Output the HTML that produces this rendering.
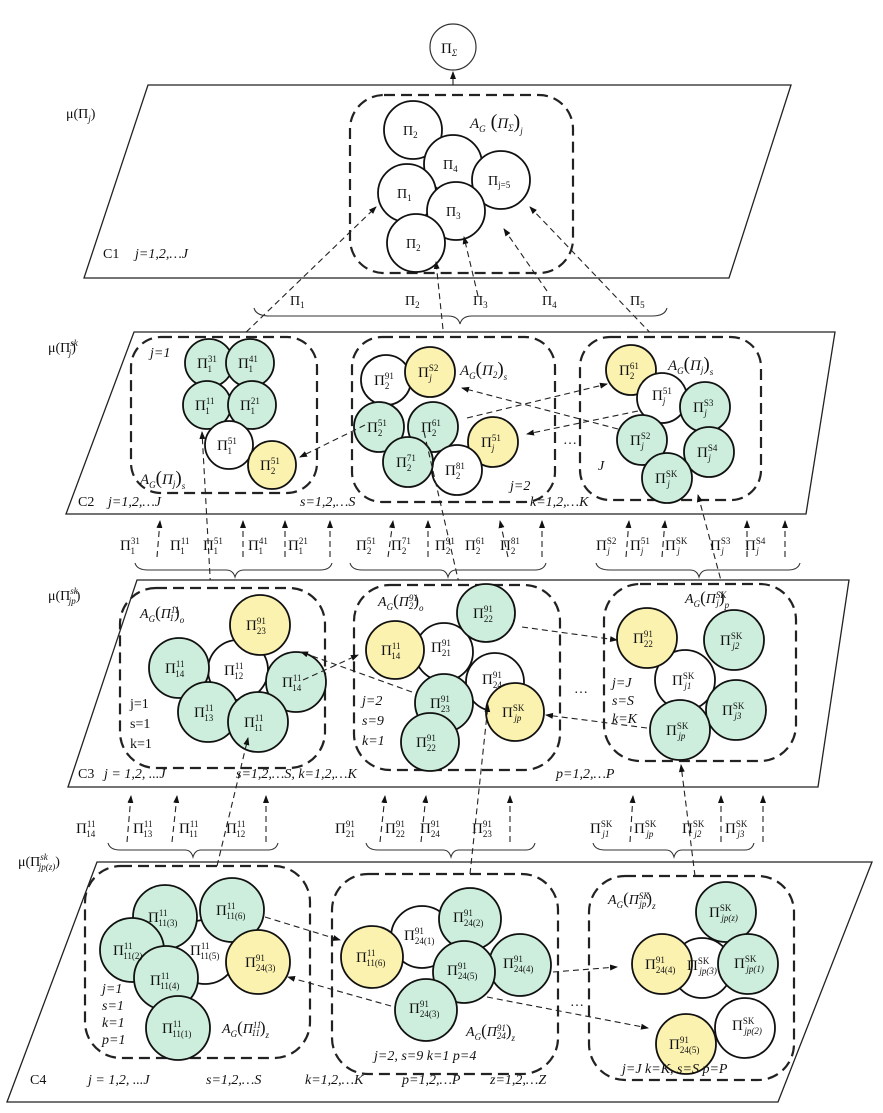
<!DOCTYPE html>
<html><head><meta charset="utf-8">
<style>
html,body{margin:0;padding:0;background:#fff;}
svg{display:block;}
text{font-family:"Liberation Serif",serif;fill:#111;}
.p{font-size:15px;}
.s{font-size:9px;}
.l{font-size:14px;}
.i{font-style:italic;}
.pl{fill:#fff;stroke:#222;stroke-width:1.3;}
.bx{fill:none;stroke:#222;stroke-width:2.2;stroke-dasharray:11 6;}
.g{fill:#cdeedd;stroke:#111;stroke-width:1.8;}
.y{fill:#fbf2b0;stroke:#111;stroke-width:1.8;}
.w{fill:#fff;stroke:#111;stroke-width:1.8;}
.d{fill:none;stroke:#222;stroke-width:1.1;stroke-dasharray:6 4;}
.br{fill:none;stroke:#333;stroke-width:1.1;}
</style></head><body>
<svg width="883" height="1113" viewBox="0 0 883 1113" xmlns="http://www.w3.org/2000/svg">
<defs>
<marker id="a" markerWidth="8" markerHeight="8" refX="7" refY="4" orient="auto" markerUnits="userSpaceOnUse"><path d="M0,1 L8,4 L0,7 z" fill="#111"/></marker>
</defs>

<!-- top circle -->
<circle cx="453" cy="47" r="23" fill="#fff" stroke="#333" stroke-width="1.2"/>
<text x="441" y="53" class="p">Π<tspan class="s i" dy="3">Σ</tspan></text>
<line x1="453" y1="85" x2="453" y2="72" stroke="#222" stroke-width="1.1" marker-end="url(#a)"/>

<!-- C1 -->
<polygon class="pl" points="148,85 791,85 729,278 84,278"/>
<text x="66" y="118" class="l">μ(Π<tspan class="s i" dy="4">j</tspan><tspan dy="-4">)</tspan></text>
<text x="103" y="258" class="l">C1</text><text x="135" y="258" class="l i">j=1,2,…J</text>
<rect class="bx" x="350" y="95" width="223" height="178" rx="34"/>
<circle class="w" cx="413" cy="130" r="29"/>
<circle class="w" cx="453" cy="164" r="29"/>
<circle class="w" cx="501" cy="180" r="29"/>
<circle class="w" cx="407" cy="193" r="29"/>
<circle class="w" cx="456" cy="211" r="29"/>
<circle class="w" cx="416" cy="243" r="29"/>
<text x="403" y="135" class="l">Π<tspan class="s" dy="3">2</tspan></text>
<text x="443" y="169" class="l">Π<tspan class="s" dy="3">4</tspan></text>
<text x="488" y="185" class="l">Π<tspan class="s" dy="3">j=5</tspan></text>
<text x="397" y="198" class="l">Π<tspan class="s" dy="3">1</tspan></text>
<text x="446" y="216" class="l">Π<tspan class="s" dy="3">3</tspan></text>
<text x="406" y="248" class="l">Π<tspan class="s" dy="3">2</tspan></text>
<text x="470" y="128" class="p i">A<tspan class="s" dy="4">G</tspan><tspan dy="-4" font-size="20" font-style="normal"> (</tspan>Π<tspan class="s" dy="3">Σ</tspan><tspan dy="-3" font-size="20" font-style="normal">)</tspan><tspan class="s" dy="6">j</tspan></text>

<!-- connectors C2 -> C1 -->
<line class="d" x1="239" y1="339" x2="376" y2="207" marker-end="url(#a)"/>
<line class="d" x1="444" y1="339" x2="436" y2="262" marker-end="url(#a)"/>
<line class="d" x1="478" y1="296" x2="464" y2="237" marker-end="url(#a)"/>
<line class="d" x1="547" y1="291" x2="504" y2="229" marker-end="url(#a)"/>
<line class="d" x1="658" y1="341" x2="530" y2="207" marker-end="url(#a)"/>
<text x="290" y="305" class="l">Π<tspan class="s" dy="3">1</tspan></text>
<text x="405" y="305" class="l">Π<tspan class="s" dy="3">2</tspan></text>
<text x="473" y="305" class="l">Π<tspan class="s" dy="3">3</tspan></text>
<text x="542" y="305" class="l">Π<tspan class="s" dy="3">4</tspan></text>
<text x="630" y="305" class="l">Π<tspan class="s" dy="3">5</tspan></text>
<path class="br" d="M254,308 Q256,316 270,316 L448,316 Q458,316 460,324 Q462,316 472,316 L652,316 Q665,316 667,308"/>

<!-- C2 -->
<polygon class="pl" points="134,332 835,332 806,514 66,514"/>
<text x="48" y="352" class="l">μ(Π<tspan class="s i" dy="-6">sk</tspan><tspan class="s i" dx="-9" dy="10">j</tspan><tspan dy="-4">)</tspan></text>
<text x="78" y="506" class="l">C2</text><text x="108" y="506" class="l i" font-size="13">j=1,2,…J</text>
<text x="300" y="506" class="l i" font-size="13">s=1,2,…S</text>
<text x="530" y="506" class="l i" font-size="13">k=1,2,…K</text>

<rect class="bx" x="131" y="337" width="186" height="156" rx="30"/>
<circle class="g" cx="209" cy="363" r="24"/><circle class="g" cx="250" cy="363" r="24"/>
<circle class="g" cx="207" cy="405" r="24"/><circle class="g" cx="252" cy="405" r="24"/>
<circle class="w" cx="229" cy="445" r="24"/><circle class="y" cx="272" cy="465" r="24"/>
<g class="p">
<text x="197" y="368">Π<tspan class="s" dy="-6">31</tspan><tspan class="s" dx="-9" dy="10">1</tspan></text>
<text x="238" y="368">Π<tspan class="s" dy="-6">41</tspan><tspan class="s" dx="-9" dy="10">1</tspan></text>
<text x="195" y="410">Π<tspan class="s" dy="-6">11</tspan><tspan class="s" dx="-9" dy="10">1</tspan></text>
<text x="240" y="410">Π<tspan class="s" dy="-6">21</tspan><tspan class="s" dx="-9" dy="10">1</tspan></text>
<text x="217" y="450">Π<tspan class="s" dy="-6">51</tspan><tspan class="s" dx="-9" dy="10">1</tspan></text>
<text x="260" y="470">Π<tspan class="s" dy="-6">51</tspan><tspan class="s" dx="-9" dy="10">2</tspan></text>
</g>
<text x="150" y="357" class="l i">j=1</text>
<text x="140" y="484" class="p i">A<tspan class="s" dy="4">G</tspan><tspan dy="-4" font-size="19" font-style="normal">(</tspan>Π<tspan class="s" dy="3">j</tspan><tspan dy="-3" font-size="19" font-style="normal">)</tspan><tspan class="s" dy="5">s</tspan></text>

<rect class="bx" x="352" y="337" width="203" height="165" rx="30"/>
<circle class="w" cx="386" cy="380" r="25"/><circle class="y" cx="430" cy="372" r="25"/>
<circle class="g" cx="379" cy="427" r="25"/><circle class="g" cx="433" cy="427" r="25"/>
<circle class="y" cx="493" cy="442" r="25"/><circle class="w" cx="457" cy="470" r="25"/>
<circle class="g" cx="408" cy="462" r="25"/>
<g class="p">
<text x="374" y="385">Π<tspan class="s" dy="-6">91</tspan><tspan class="s" dx="-9" dy="10">2</tspan></text>
<text x="418" y="377">Π<tspan class="s" dy="-6">S2</tspan><tspan class="s i" dx="-9" dy="10">j</tspan></text>
<text x="367" y="432">Π<tspan class="s" dy="-6">51</tspan><tspan class="s" dx="-9" dy="10">2</tspan></text>
<text x="421" y="432">Π<tspan class="s" dy="-6">61</tspan><tspan class="s" dx="-9" dy="10">2</tspan></text>
<text x="481" y="447">Π<tspan class="s" dy="-6">51</tspan><tspan class="s i" dx="-9" dy="10">j</tspan></text>
<text x="396" y="467">Π<tspan class="s" dy="-6">71</tspan><tspan class="s" dx="-9" dy="10">2</tspan></text>
<text x="445" y="475">Π<tspan class="s" dy="-6">81</tspan><tspan class="s" dx="-9" dy="10">2</tspan></text>
</g>
<text x="460" y="375" class="p i">A<tspan class="s" dy="4">G</tspan><tspan dy="-4" font-size="19" font-style="normal">(</tspan>Π<tspan class="s" dy="3">2</tspan><tspan dy="-3" font-size="19" font-style="normal">)</tspan><tspan class="s" dy="5">s</tspan></text>
<text x="510" y="490" class="l i">j=2</text>

<rect class="bx" x="580" y="337" width="181" height="163" rx="30"/>
<circle class="y" cx="631" cy="370" r="25"/><circle class="w" cx="662" cy="398" r="25"/>
<circle class="g" cx="705" cy="407" r="25"/><circle class="g" cx="642" cy="440" r="25"/>
<circle class="g" cx="709" cy="452" r="25"/><circle class="g" cx="667" cy="478" r="25"/>
<g class="p">
<text x="619" y="375">Π<tspan class="s" dy="-6">61</tspan><tspan class="s" dx="-9" dy="10">2</tspan></text>
<text x="652" y="400">Π<tspan class="s" dy="-6">51</tspan><tspan class="s i" dx="-9" dy="10">j</tspan></text>
<text x="693" y="412">Π<tspan class="s" dy="-6">S3</tspan><tspan class="s i" dx="-9" dy="10">j</tspan></text>
<text x="630" y="445">Π<tspan class="s" dy="-6">S2</tspan><tspan class="s i" dx="-9" dy="10">j</tspan></text>
<text x="697" y="457">Π<tspan class="s" dy="-6">S4</tspan><tspan class="s i" dx="-9" dy="10">j</tspan></text>
<text x="655" y="483">Π<tspan class="s" dy="-6">SK</tspan><tspan class="s i" dx="-10" dy="10">j</tspan></text>
</g>
<text x="668" y="370" class="p i">A<tspan class="s" dy="4">G</tspan><tspan dy="-4" font-size="19" font-style="normal">(</tspan>Π<tspan class="s" dy="3">j</tspan><tspan dy="-3" font-size="19" font-style="normal">)</tspan><tspan class="s" dy="5">s</tspan></text>
<text x="598" y="470" class="l i">J</text>
<text x="563" y="444" class="l">…</text>

<line class="d" x1="467" y1="418" x2="607" y2="384" marker-end="url(#a)"/>
<line class="d" x1="638" y1="411" x2="527" y2="434" marker-end="url(#a)"/>
<line class="d" x1="618" y1="429" x2="462" y2="388" marker-end="url(#a)"/>
<line class="d" x1="365" y1="425" x2="300" y2="457" marker-end="url(#a)"/>
<line class="d" x1="211" y1="594" x2="202" y2="432" marker-end="url(#a)"/>
<line class="d" x1="424" y1="432" x2="486" y2="700" marker-end="url(#a)"/>
<line class="d" x1="723" y1="588" x2="698" y2="495" marker-end="url(#a)"/>

<!-- row C3 -> C2 -->
<g class="p">
<text x="120" y="550">Π<tspan class="s" dy="-6">31</tspan><tspan class="s" dx="-9" dy="10">1</tspan></text>
<text x="170" y="550">Π<tspan class="s" dy="-6">11</tspan><tspan class="s" dx="-9" dy="10">1</tspan></text>
<text x="203" y="550">Π<tspan class="s" dy="-6">51</tspan><tspan class="s" dx="-9" dy="10">1</tspan></text>
<text x="248" y="550">Π<tspan class="s" dy="-6">41</tspan><tspan class="s" dx="-9" dy="10">1</tspan></text>
<text x="288" y="550">Π<tspan class="s" dy="-6">21</tspan><tspan class="s" dx="-9" dy="10">1</tspan></text>
<text x="356" y="550">Π<tspan class="s" dy="-6">51</tspan><tspan class="s" dx="-9" dy="10">2</tspan></text>
<text x="391" y="550">Π<tspan class="s" dy="-6">71</tspan><tspan class="s" dx="-9" dy="10">2</tspan></text>
<text x="435" y="550">Π<tspan class="s" dy="-6">91</tspan><tspan class="s" dx="-9" dy="10">2</tspan></text>
<text x="465" y="550">Π<tspan class="s" dy="-6">61</tspan><tspan class="s" dx="-9" dy="10">2</tspan></text>
<text x="500" y="550">Π<tspan class="s" dy="-6">81</tspan><tspan class="s" dx="-9" dy="10">2</tspan></text>
<text x="596" y="550">Π<tspan class="s" dy="-6">S2</tspan><tspan class="s i" dx="-9" dy="10">j</tspan></text>
<text x="630" y="550">Π<tspan class="s" dy="-6">51</tspan><tspan class="s i" dx="-9" dy="10">j</tspan></text>
<text x="665" y="550">Π<tspan class="s" dy="-6">SK</tspan><tspan class="s i" dx="-10" dy="10">j</tspan></text>
<text x="710" y="550">Π<tspan class="s" dy="-6">S3</tspan><tspan class="s i" dx="-9" dy="10">j</tspan></text>
<text x="745" y="550">Π<tspan class="s" dy="-6">S4</tspan><tspan class="s i" dx="-9" dy="10">j</tspan></text>
</g>
<g class="d">
<line x1="157" y1="557" x2="160" y2="521" marker-end="url(#a)"/>
<line x1="243" y1="557" x2="243" y2="521" marker-end="url(#a)"/>
<line x1="285" y1="557" x2="285" y2="521" marker-end="url(#a)"/>
<line x1="330" y1="557" x2="330" y2="521" marker-end="url(#a)"/>
<line x1="388" y1="557" x2="393" y2="521" marker-end="url(#a)"/>
<line x1="428" y1="557" x2="428" y2="521" marker-end="url(#a)"/>
<line x1="508" y1="557" x2="500" y2="521" marker-end="url(#a)"/>
<line x1="542" y1="557" x2="542" y2="521" marker-end="url(#a)"/>
<line x1="626" y1="557" x2="629" y2="521" marker-end="url(#a)"/>
<line x1="662" y1="557" x2="665" y2="521" marker-end="url(#a)"/>
<line x1="747" y1="557" x2="747" y2="521" marker-end="url(#a)"/>
<line x1="785" y1="557" x2="785" y2="521" marker-end="url(#a)"/>
</g>
<path class="br" d="M135,563 Q137,570 148,570 L226,570 Q233,570 235,577 Q237,570 244,570 L320,570 Q330,570 332,563"/>
<path class="br" d="M350,563 Q352,570 362,570 L440,570 Q446,570 448,577 Q450,570 456,570 L535,570 Q544,570 546,563"/>
<path class="br" d="M596,563 Q598,570 610,570 L690,570 Q697,570 699,577 Q701,570 708,570 L788,570 Q798,570 800,563"/>

<!-- C3 -->
<polygon class="pl" points="137,580 849,580 818,787 68,787"/>
<text x="48" y="600" class="l">μ(Π<tspan class="s i" dy="-6">sk</tspan><tspan class="s i" dx="-9" dy="10">jp</tspan><tspan dy="-4">)</tspan></text>
<text x="78" y="778" class="l">C3</text><text x="104" y="778" class="l i">j = 1,2, ...J</text>
<text x="236" y="778" class="l i" font-size="13">s=1,2,…S,  k=1,2,…K</text>
<text x="556" y="778" class="l i" font-size="13">p=1,2,…P</text>

<rect class="bx" x="120" y="588" width="205" height="180" rx="36"/>
<circle class="w" cx="238" cy="670" r="30"/>
<circle class="y" cx="260" cy="625" r="30"/><circle class="g" cx="179" cy="668" r="30"/>
<circle class="g" cx="296" cy="682" r="30"/><circle class="g" cx="208" cy="712" r="30"/>
<circle class="g" cx="258" cy="722" r="30"/>
<g class="p">
<text x="246" y="630">Π<tspan class="s" dy="-6">91</tspan><tspan class="s" dx="-9" dy="10">23</tspan></text>
<text x="165" y="673">Π<tspan class="s" dy="-6">11</tspan><tspan class="s" dx="-9" dy="10">14</tspan></text>
<text x="224" y="675">Π<tspan class="s" dy="-6">11</tspan><tspan class="s" dx="-9" dy="10">12</tspan></text>
<text x="282" y="687">Π<tspan class="s" dy="-6">11</tspan><tspan class="s" dx="-9" dy="10">14</tspan></text>
<text x="194" y="717">Π<tspan class="s" dy="-6">11</tspan><tspan class="s" dx="-9" dy="10">13</tspan></text>
<text x="244" y="727">Π<tspan class="s" dy="-6">11</tspan><tspan class="s" dx="-9" dy="10">11</tspan></text>
</g>
<text x="140" y="618" class="l i">A<tspan class="s" dy="4">G</tspan><tspan dy="-4" font-size="17" font-style="normal">(</tspan>Π<tspan class="s" dy="-5">11</tspan><tspan class="s" dx="-9" dy="8">1</tspan><tspan dy="-3" font-size="17" font-style="normal">)</tspan><tspan class="s" dy="5">o</tspan></text>
<text x="130" y="708" class="l">j=1</text><text x="130" y="728" class="l">s=1</text><text x="130" y="748" class="l">k=1</text>

<rect class="bx" x="354" y="585" width="206" height="185" rx="36"/>
<circle class="w" cx="444" cy="652" r="29"/><circle class="w" cx="495" cy="682" r="29"/>
<circle class="g" cx="486" cy="613" r="29"/><circle class="y" cx="395" cy="650" r="29"/>
<circle class="g" cx="444" cy="703" r="29"/><circle class="y" cx="515" cy="712" r="29"/>
<circle class="g" cx="430" cy="742" r="29"/>
<g class="p">
<text x="473" y="618">Π<tspan class="s" dy="-6">91</tspan><tspan class="s" dx="-9" dy="10">22</tspan></text>
<text x="381" y="655">Π<tspan class="s" dy="-6">11</tspan><tspan class="s" dx="-9" dy="10">14</tspan></text>
<text x="431" y="652">Π<tspan class="s" dy="-6">91</tspan><tspan class="s" dx="-9" dy="10">21</tspan></text>
<text x="482" y="684">Π<tspan class="s" dy="-6">91</tspan><tspan class="s" dx="-9" dy="10">24</tspan></text>
<text x="430" y="708">Π<tspan class="s" dy="-6">91</tspan><tspan class="s" dx="-9" dy="10">23</tspan></text>
<text x="502" y="717">Π<tspan class="s" dy="-6">SK</tspan><tspan class="s i" dx="-10" dy="10">jp</tspan></text>
<text x="416" y="747">Π<tspan class="s" dy="-6">91</tspan><tspan class="s" dx="-9" dy="10">22</tspan></text>
</g>
<text x="378" y="606" class="l i">A<tspan class="s" dy="4">G</tspan><tspan dy="-4" font-size="17" font-style="normal">(</tspan>Π<tspan class="s" dy="-5">91</tspan><tspan class="s" dx="-9" dy="8">2</tspan><tspan dy="-3" font-size="17" font-style="normal">)</tspan><tspan class="s" dy="5">o</tspan></text>
<text x="362" y="705" class="l i">j=2</text><text x="362" y="725" class="l i">s=9</text><text x="362" y="745" class="l i">k=1</text>
<text x="574" y="693" class="l">…</text>

<rect class="bx" x="604" y="584" width="192" height="177" rx="36"/>
<circle class="w" cx="685" cy="680" r="30"/>
<circle class="y" cx="647" cy="638" r="30"/><circle class="g" cx="734" cy="640" r="30"/>
<circle class="g" cx="736" cy="710" r="30"/><circle class="g" cx="680" cy="730" r="30"/>
<g class="p">
<text x="633" y="643">Π<tspan class="s" dy="-6">91</tspan><tspan class="s" dx="-9" dy="10">22</tspan></text>
<text x="720" y="645">Π<tspan class="s" dy="-6">SK</tspan><tspan class="s i" dx="-10" dy="10">j2</tspan></text>
<text x="672" y="685">Π<tspan class="s" dy="-6">SK</tspan><tspan class="s i" dx="-10" dy="10">j1</tspan></text>
<text x="722" y="715">Π<tspan class="s" dy="-6">SK</tspan><tspan class="s i" dx="-10" dy="10">j3</tspan></text>
<text x="666" y="735">Π<tspan class="s" dy="-6">SK</tspan><tspan class="s i" dx="-10" dy="10">jp</tspan></text>
</g>
<text x="685" y="603" class="l i">A<tspan class="s" dy="4">G</tspan><tspan dy="-4" font-size="17" font-style="normal">(</tspan>Π<tspan class="s" dy="-5">SK</tspan><tspan class="s" dx="-10" dy="8">j</tspan><tspan dy="-3" font-size="17" font-style="normal">)</tspan><tspan class="s" dy="5">p</tspan></text>
<text x="612" y="687" class="l i">j=J</text><text x="612" y="705" class="l i">s=S</text><text x="612" y="723" class="l i">k=K</text>

<line class="d" x1="412" y1="692" x2="301" y2="652" marker-end="url(#a)"/>
<line class="d" x1="303" y1="680" x2="358" y2="655" marker-end="url(#a)"/>
<line class="d" x1="522" y1="627" x2="617" y2="640" marker-end="url(#a)"/>
<line class="d" x1="647" y1="728" x2="546" y2="715" marker-end="url(#a)"/>

<!-- row C4 -> C3 -->
<g class="p">
<text x="76" y="833">Π<tspan class="s" dy="-6">11</tspan><tspan class="s" dx="-9" dy="10">14</tspan></text>
<text x="133" y="833">Π<tspan class="s" dy="-6">11</tspan><tspan class="s" dx="-9" dy="10">13</tspan></text>
<text x="179" y="833">Π<tspan class="s" dy="-6">11</tspan><tspan class="s" dx="-9" dy="10">11</tspan></text>
<text x="226" y="833">Π<tspan class="s" dy="-6">11</tspan><tspan class="s" dx="-9" dy="10">12</tspan></text>
<text x="335" y="833">Π<tspan class="s" dy="-6">91</tspan><tspan class="s" dx="-9" dy="10">21</tspan></text>
<text x="385" y="833">Π<tspan class="s" dy="-6">91</tspan><tspan class="s" dx="-9" dy="10">22</tspan></text>
<text x="420" y="833">Π<tspan class="s" dy="-6">91</tspan><tspan class="s" dx="-9" dy="10">24</tspan></text>
<text x="472" y="833">Π<tspan class="s" dy="-6">91</tspan><tspan class="s" dx="-9" dy="10">23</tspan></text>
<text x="590" y="833">Π<tspan class="s" dy="-6">SK</tspan><tspan class="s i" dx="-10" dy="10">j1</tspan></text>
<text x="634" y="833">Π<tspan class="s" dy="-6">SK</tspan><tspan class="s i" dx="-10" dy="10">jp</tspan></text>
<text x="682" y="833">Π<tspan class="s" dy="-6">SK</tspan><tspan class="s i" dx="-10" dy="10">j2</tspan></text>
<text x="725" y="833">Π<tspan class="s" dy="-6">SK</tspan><tspan class="s i" dx="-10" dy="10">j3</tspan></text>
</g>
<g class="d">
<line x1="127" y1="842" x2="131" y2="796" marker-end="url(#a)"/>
<line x1="172" y1="842" x2="177" y2="796" marker-end="url(#a)"/>
<line x1="266" y1="842" x2="266" y2="796" marker-end="url(#a)"/>
<line x1="380" y1="842" x2="385" y2="796" marker-end="url(#a)"/>
<line x1="421" y1="842" x2="426" y2="796" marker-end="url(#a)"/>
<line x1="510" y1="842" x2="510" y2="796" marker-end="url(#a)"/>
<line x1="630" y1="842" x2="633" y2="796" marker-end="url(#a)"/>
<line x1="721" y1="842" x2="721" y2="796" marker-end="url(#a)"/>
<line x1="763" y1="842" x2="763" y2="796" marker-end="url(#a)"/>
</g>
<path class="br" d="M108,843 Q110,850 120,850 L185,850 Q191,850 193,857 Q195,850 201,850 L268,850 Q276,850 278,843"/>
<path class="br" d="M366,843 Q368,850 378,850 L443,850 Q449,850 451,857 Q453,850 459,850 L526,850 Q533,850 535,843"/>
<path class="br" d="M593,843 Q595,850 605,850 L666,850 Q672,850 674,857 Q676,850 682,850 L745,850 Q752,850 754,843"/>

<!-- C4 -->
<polygon class="pl" points="97,862 872,862 778,1102 7,1102"/>
<text x="18" y="866" class="l">μ(Π<tspan class="s i" dy="-6">sk</tspan><tspan class="s i" dx="-9" dy="10">jp(z)</tspan><tspan dy="-4">)</tspan></text>
<text x="30" y="1084" class="l">C4</text>
<text x="88" y="1084" class="l i">j = 1,2, ...J</text>
<text x="206" y="1084" class="l i" font-size="13">s=1,2,…S</text>
<text x="305" y="1084" class="l i" font-size="13">k=1,2,…K</text>
<text x="402" y="1084" class="l i" font-size="13">p=1,2,…P</text>
<text x="490" y="1084" class="l i" font-size="13">z=1,2,…Z</text>

<rect class="bx" x="85" y="866" width="225" height="192" rx="36"/>
<circle class="w" cx="205" cy="952" r="32"/>
<circle class="g" cx="165" cy="917" r="32"/><circle class="g" cx="232" cy="910" r="32"/>
<circle class="g" cx="132" cy="950" r="32"/><circle class="y" cx="258" cy="962" r="32"/>
<circle class="g" cx="166" cy="978" r="32"/><circle class="g" cx="178" cy="1028" r="32"/>
<g class="p">
<text x="148" y="922">Π<tspan class="s" dy="-6">11</tspan><tspan class="s" dx="-9" dy="10">11(3)</tspan></text>
<text x="216" y="915">Π<tspan class="s" dy="-6">11</tspan><tspan class="s" dx="-9" dy="10">11(6)</tspan></text>
<text x="113" y="955">Π<tspan class="s" dy="-6">11</tspan><tspan class="s" dx="-9" dy="10">11(2)</tspan></text>
<text x="190" y="955">Π<tspan class="s" dy="-6">11</tspan><tspan class="s" dx="-9" dy="10">11(5)</tspan></text>
<text x="245" y="967">Π<tspan class="s" dy="-6">91</tspan><tspan class="s" dx="-9" dy="10">24(3)</tspan></text>
<text x="150" y="985">Π<tspan class="s" dy="-6">11</tspan><tspan class="s" dx="-9" dy="10">11(4)</tspan></text>
<text x="162" y="1033">Π<tspan class="s" dy="-6">11</tspan><tspan class="s" dx="-9" dy="10">11(1)</tspan></text>
</g>
<text x="102" y="993" class="l i">j=1</text><text x="102" y="1010" class="l i">s=1</text>
<text x="102" y="1027" class="l i">k=1</text><text x="102" y="1044" class="l i">p=1</text>
<text x="222" y="1033" class="l i">A<tspan class="s" dy="4">G</tspan><tspan dy="-4" font-size="17" font-style="normal">(</tspan>Π<tspan class="s" dy="-5">11</tspan><tspan class="s" dx="-9" dy="8">11</tspan><tspan dy="-3" font-size="17" font-style="normal">)</tspan><tspan class="s" dy="5">z</tspan></text>

<rect class="bx" x="332" y="874" width="226" height="200" rx="36"/>
<circle class="w" cx="422" cy="937" r="31"/>
<circle class="y" cx="372" cy="957" r="31"/><circle class="g" cx="470" cy="919" r="31"/>
<circle class="g" cx="520" cy="965" r="31"/><circle class="g" cx="464" cy="972" r="31"/>
<circle class="g" cx="426" cy="1010" r="31"/>
<g class="p">
<text x="356" y="962">Π<tspan class="s" dy="-6">11</tspan><tspan class="s" dx="-9" dy="10">11(6)</tspan></text>
<text x="404" y="940">Π<tspan class="s" dy="-6">91</tspan><tspan class="s" dx="-9" dy="10">24(1)</tspan></text>
<text x="453" y="922">Π<tspan class="s" dy="-6">91</tspan><tspan class="s" dx="-9" dy="10">24(2)</tspan></text>
<text x="503" y="968">Π<tspan class="s" dy="-6">91</tspan><tspan class="s" dx="-9" dy="10">24(4)</tspan></text>
<text x="447" y="975">Π<tspan class="s" dy="-6">91</tspan><tspan class="s" dx="-9" dy="10">24(5)</tspan></text>
<text x="409" y="1013">Π<tspan class="s" dy="-6">91</tspan><tspan class="s" dx="-9" dy="10">24(3)</tspan></text>
</g>
<text x="466" y="1036" class="l i">A<tspan class="s" dy="4">G</tspan><tspan dy="-4" font-size="17" font-style="normal">(</tspan>Π<tspan class="s" dy="-5">91</tspan><tspan class="s" dx="-9" dy="8">24</tspan><tspan dy="-3" font-size="17" font-style="normal">)</tspan><tspan class="s" dy="5">z</tspan></text>
<text x="374" y="1060" class="l i" font-size="13">j=2, s=9   k=1   p=4</text>
<text x="570" y="1006" class="l">…</text>

<rect class="bx" x="589" y="876" width="205" height="204" rx="36"/>
<circle class="w" cx="702" cy="968" r="30"/><circle class="w" cx="745" cy="1028" r="30"/>
<circle class="g" cx="726" cy="912" r="30"/><circle class="y" cx="662" cy="964" r="30"/>
<circle class="g" cx="748" cy="964" r="30"/><circle class="y" cx="686" cy="1044" r="30"/>
<g class="p">
<text x="709" y="917">Π<tspan class="s" dy="-6">SK</tspan><tspan class="s i" dx="-10" dy="10">jp(z)</tspan></text>
<text x="645" y="969">Π<tspan class="s" dy="-6">91</tspan><tspan class="s" dx="-9" dy="10">24(4)</tspan></text>
<text x="687" y="970">Π<tspan class="s" dy="-6">SK</tspan><tspan class="s i" dx="-10" dy="10">jp(3)</tspan></text>
<text x="734" y="968">Π<tspan class="s" dy="-6">SK</tspan><tspan class="s i" dx="-10" dy="10">jp(1)</tspan></text>
<text x="732" y="1030">Π<tspan class="s" dy="-6">SK</tspan><tspan class="s i" dx="-10" dy="10">jp(2)</tspan></text>
<text x="669" y="1049">Π<tspan class="s" dy="-6">91</tspan><tspan class="s" dx="-9" dy="10">24(5)</tspan></text>
</g>
<text x="608" y="904" class="l i">A<tspan class="s" dy="4">G</tspan><tspan dy="-4" font-size="17" font-style="normal">(</tspan>Π<tspan class="s" dy="-5">SK</tspan><tspan class="s" dx="-10" dy="8">jp</tspan><tspan dy="-3" font-size="17" font-style="normal">)</tspan><tspan class="s" dy="5">z</tspan></text>
<text x="622" y="1073" class="l i" font-size="13">j=J  k=K, s=S  p=P</text>

<line class="d" x1="265" y1="917" x2="340" y2="940" marker-end="url(#a)"/>
<line class="d" x1="391" y1="1006" x2="288" y2="977" marker-end="url(#a)"/>
<line class="d" x1="553" y1="972" x2="617" y2="967" marker-end="url(#a)"/>
<line class="d" x1="487" y1="997" x2="648" y2="1028" marker-end="url(#a)"/>
<line class="d" x1="217" y1="866" x2="248" y2="738" marker-end="url(#a)"/>
<line class="d" x1="470" y1="874" x2="488" y2="705" marker-end="url(#a)"/>
<line class="d" x1="695" y1="876" x2="681" y2="765" marker-end="url(#a)"/>
</svg>
</body></html>
